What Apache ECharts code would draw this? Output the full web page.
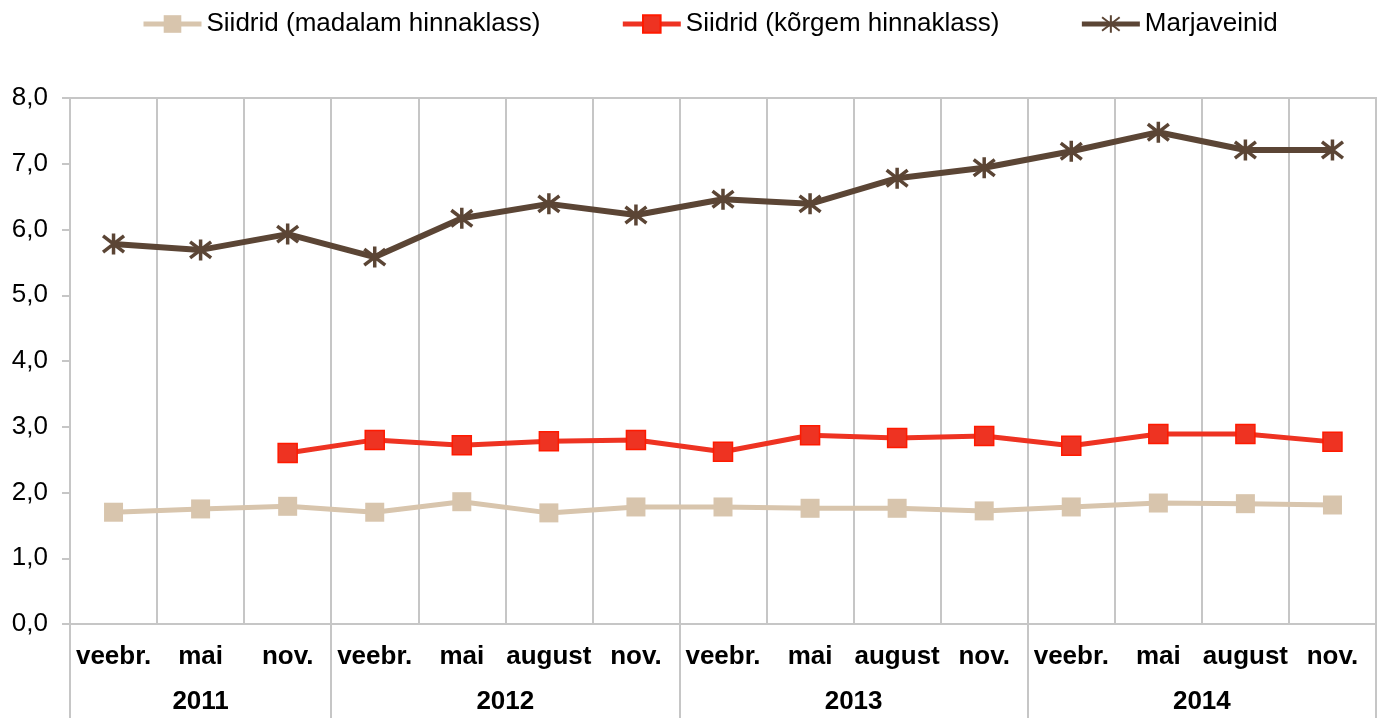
<!DOCTYPE html>
<html>
<head>
<meta charset="utf-8">
<script src="https://cdn.jsdelivr.net/npm/echarts@6/dist/echarts.min.js"></script>
<style>
  html, body { margin: 0; padding: 0; background: #fff; }
  #chart { width: 1384px; height: 718px; }
</style>
</head>
<body>
<div id="chart"></div>
<script type="text/javascript">

var months = ['veebr.', 'mai', 'nov.',
              'veebr.', 'mai', 'august', 'nov.',
              'veebr.', 'mai', 'august', 'nov.',
              'veebr.', 'mai', 'august', 'nov.'];
var years = ['2011', '2012', '2013', '2014'];
var yearSizes = [3, 4, 4, 4];

var madalam = [1.70, 1.75, 1.79, 1.70, 1.86, 1.69, 1.78, 1.78, 1.76, 1.76, 1.72, 1.78, 1.84, 1.83, 1.81];
var korgem  = [null, null, 2.60, 2.80, 2.72, 2.78, 2.80, 2.62, 2.87, 2.83, 2.86, 2.71, 2.89, 2.89, 2.77];
var marja   = [5.78, 5.69, 5.93, 5.58, 6.17, 6.39, 6.22, 6.46, 6.39, 6.78, 6.94, 7.19, 7.48, 7.21, 7.21];

// year group borders and centers on a 0..15 scale
var yearEdges = [0];
var yearMids = [];
yearSizes.forEach(function (n) {
    var start = yearEdges[yearEdges.length - 1];
    yearMids.push(start + n / 2);
    yearEdges.push(start + n);
});

var gridGray = '#c6c6c6';
var font = 'Liberation Sans, Arial, sans-serif';
var asterisk = 'path://M0,0L10,10M10,0L0,10M5,-1.5L5,11.5';

var option = {
    animation: false,
    textStyle: { fontFamily: font },
    legend: {
        top: 6,
        left: 136,
        itemWidth: 58,
        itemHeight: 22,
        itemGap: 80,
        textStyle: { fontSize: 26, color: '#000', fontFamily: font },
        lineStyle: { width: 5 },
        data: ['Siidrid (madalam hinnaklass)', 'Siidrid (kõrgem hinnaklass)', 'Marjaveinid']
    },
    grid: {
        left: 70,
        right: 8,
        top: 98,
        bottom: 94,
        show: true,
        borderColor: gridGray,
        borderWidth: 2
    },
    xAxis: [{
        type: 'category',
        data: months,
        boundaryGap: true,
        axisLine: { lineStyle: { color: gridGray, width: 2 } },
        axisTick: { show: false },
        axisLabel: {
            interval: 0,
            margin: 20,
            fontSize: 26,
            fontWeight: 'bold',
            color: '#000',
            fontFamily: font
        },
        splitLine: { show: true, lineStyle: { color: gridGray, width: 2 } }
    }, {
        type: 'value',
        min: 0,
        max: 15,
        position: 'bottom',
        axisLine: { show: false },
        splitLine: { show: false },
        axisTick: {
            show: true,
            customValues: yearEdges,
            length: 94,
            lineStyle: { color: gridGray, width: 2 }
        },
        axisLabel: {
            customValues: yearMids,
            margin: 65,
            fontSize: 26,
            fontWeight: 'bold',
            color: '#000',
            fontFamily: font,
            formatter: function (v) {
                return years[yearMids.indexOf(v)];
            }
        }
    }],
    yAxis: {
        type: 'value',
        min: 0,
        max: 8,
        interval: 1,
        axisLine: { show: true, lineStyle: { color: gridGray, width: 2 } },
        axisTick: { show: true, length: 8, lineStyle: { color: gridGray, width: 2 } },
        splitLine: { show: false },
        axisLabel: {
            margin: 22,
            fontSize: 26,
            color: '#000',
            fontFamily: font,
            formatter: function (v) { return v.toFixed(1).replace('.', ','); }
        }
    },
    series: [{
        name: 'Siidrid (madalam hinnaklass)',
        type: 'line',
        data: madalam,
        symbol: 'rect',
        symbolSize: 19,
        lineStyle: { color: '#d8c5ad', width: 5 },
        itemStyle: { color: '#d8c5ad' }
    }, {
        name: 'Siidrid (kõrgem hinnaklass)',
        type: 'line',
        data: korgem,
        symbol: 'rect',
        symbolSize: 19,
        lineStyle: { color: '#ee3322', width: 5 },
        itemStyle: { color: '#ee3322', borderColor: '#ff1a00', borderWidth: 1.5 }
    }, {
        name: 'Marjaveinid',
        type: 'line',
        data: marja,
        symbol: asterisk,
        symbolSize: 21,
        lineStyle: { color: '#5b4535', width: 6 },
        itemStyle: { color: '#5b4535', borderColor: '#5b4535', borderWidth: 3.5 }
    }]
};

var chart = echarts.init(document.getElementById('chart'));
chart.setOption(option);

</script>
</body>
</html>
